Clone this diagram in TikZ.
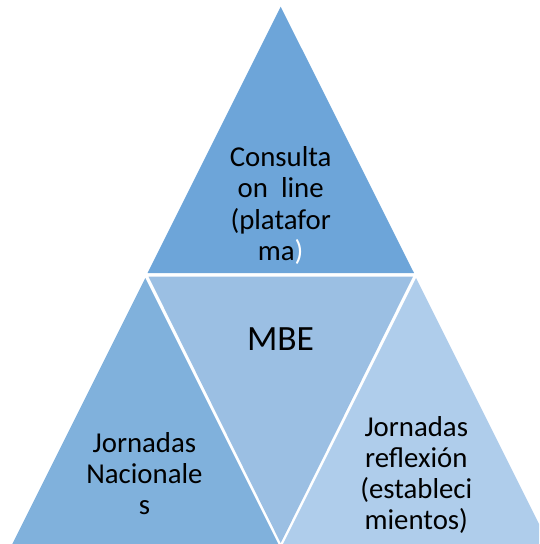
\documentclass[tikz,border=0pt]{standalone}
\usepackage{fontspec}
\setmainfont{Carlito}
\definecolor{ctop}{HTML}{6DA5D9}
\definecolor{cmid}{HTML}{9BBFE3}
\definecolor{cleft}{HTML}{80B1DC}
\definecolor{cright}{HTML}{AFCDEB}
\tikzset{
  lbl/.style={anchor=base, inner sep=0pt, font=\fontsize{28.8}{31}\selectfont, text=black},
  big/.style={anchor=base, inner sep=0pt, font=\fontsize{35.5}{40}\selectfont, text=black}
}
\begin{document}
\begin{tikzpicture}[x=1pt,y=-1pt]
\useasboundingbox (0,0) rectangle (539,544);
\begin{scope}
\clip (0,0) rectangle (539,544);
\fill[ctop] (280.7,6.7) -- (147.5,273) -- (414,273) -- cycle;
\fill[cmid] (148.5,276.5) -- (413,276.5) -- (280.7,543) -- cycle;
\fill[cleft] (145.3,278) -- (4.3,560) -- (286.3,560) -- cycle;
\fill[cright] (416,278) -- (275,560) -- (557,560) -- cycle;
\end{scope}
% top
\node[lbl] (t1) at (280.7,166.7) {Consulta};
\node[lbl] (t2) at (280.7,197.7) {on~~line};
\node[lbl] (t3) at (280.7,229.3) {(platafor};
\node[lbl] (t4) at (280.7,260.4) {ma\textcolor{white}{)}};
% middle
\node[big] (m1) at (280.5,350.6) {MBE};
% left
\node[lbl] (l1) at (144.4,452) {Jornadas};
\node[lbl] (l2) at (144.4,483) {Nacionale};
\node[lbl] (l3) at (144.4,514) {s};
% right
\node[lbl] (r1) at (416.3,436) {Jornadas};
\node[lbl] (r2) at (416.3,467.5) {reflexión};
\node[lbl] (r3) at (416.3,498.5) {(estableci};
\node[lbl] (r4) at (416.3,529.4) {mientos)};
\end{tikzpicture}
\end{document}
